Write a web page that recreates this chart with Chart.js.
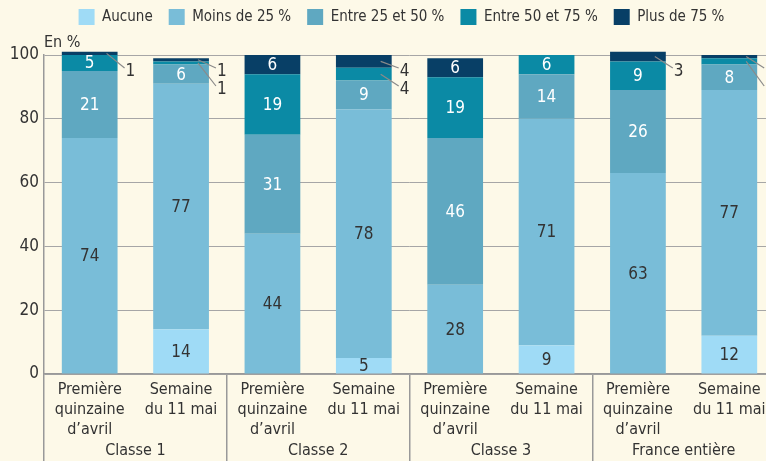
<!DOCTYPE html>
<html lang="fr">
<head>
<meta charset="utf-8">
<script src="https://cdn.jsdelivr.net/npm/chart.js@4"></script>
<style>
  html, body { margin: 0; padding: 0; background: #fdf9e8; overflow: hidden; }
  #wrap { width: 775px; height: 461px; position: relative; }
</style>
</head>
<body>
<div id="wrap"><canvas id="chart"></canvas></div>
<script>
const FONT = "'Liberation Sans Narrow', 'Arial Narrow', 'DejaVu Sans Condensed', sans-serif";

// categories
const barLabels = [
    ['Première', 'quinzaine', 'd’avril'], ['Semaine', 'du 11 mai'],
    ['Première', 'quinzaine', 'd’avril'], ['Semaine', 'du 11 mai'],
    ['Première', 'quinzaine', 'd’avril'], ['Semaine', 'du 11 mai'],
    ['Première', 'quinzaine', 'd’avril'], ['Semaine', 'du 11 mai']
];
const groupLabels = ['Classe 1', 'Classe 2', 'Classe 3', 'France entière'];

// series (en %)
const aucune     = [0, 14, 0, 5, 0, 9, 0, 12];
const moins25    = [74, 77, 44, 78, 28, 71, 63, 77];
const entre25_50 = [21, 6, 31, 9, 46, 14, 26, 8];
const entre50_75 = [5, 1, 19, 4, 19, 6, 9, 2];
const plus75     = [1, 1, 6, 4, 6, 0, 3, 1];

const seriesNames = ['Aucune', 'Moins de 25 %', 'Entre 25 et 50 %', 'Entre 50 et 75 %', 'Plus de 75 %'];
const seriesColors = ['#9fdbf6', '#79bdd8', '#5fa8c1', '#0b8aa5', '#083f66'];

Chart.defaults.font.family = FONT;
Chart.defaults.color = '#333';

// number in each segment, small ones pulled out with a leader line
const valueLabels = {
    id: 'valueLabels',
    afterDatasetsDraw(chart) {
        const ctx = chart.ctx;
        const top = chart.chartArea.top;
        const smallCount = [];
        ctx.save();
        ctx.font = '17px ' + FONT;
        ctx.textBaseline = 'middle';
        for (let i = chart.data.datasets.length - 1; i >= 0; i--) {
            const meta = chart.getDatasetMeta(i);
            meta.data.forEach((bar, j) => {
                const v = chart.data.datasets[i].data[j];
                if (!v) return;
                const mid = (bar.y + bar.base) / 2;
                if (v >= 5) {
                    ctx.fillStyle = i < 2 ? '#333' : '#fff';
                    ctx.textAlign = 'center';
                    ctx.fillText(v, bar.x, mid + 1);
                } else {
                    const k = smallCount[j] || 0;
                    smallCount[j] = k + 1;
                    const right = bar.x + bar.width / 2;
                    const ly = top + 16 + k * 18;
                    ctx.strokeStyle = '#8a8a8a';
                    ctx.lineWidth = 1.2;
                    ctx.beginPath();
                    ctx.moveTo(right - 11, mid);
                    ctx.lineTo(right + 7, ly - 3);
                    ctx.stroke();
                    ctx.fillStyle = '#333';
                    ctx.textAlign = 'left';
                    ctx.fillText(v, right + 8, ly + 1);
                }
            });
        }
        ctx.restore();
    }
};

// "En %" above the y axis, room under the legend, legend nudged right
const extras = {
    id: 'extras',
    afterInit(chart) {
        const fit = chart.legend.fit;
        chart.legend.fit = function () {
            fit.call(this);
            this.height += 20;
        };
    },
    afterLayout(chart) {
        chart.legend.left += 14;
        chart.legend.right += 14;
    },
    afterDraw(chart) {
        const ctx = chart.ctx;
        ctx.save();
        ctx.font = '16px ' + FONT;
        ctx.fillStyle = '#333';
        ctx.textAlign = 'left';
        ctx.textBaseline = 'middle';
        ctx.fillText('En %', chart.chartArea.left, chart.chartArea.top - 12);
        ctx.restore();
    }
};

const series = [aucune, moins25, entre25_50, entre50_75, plus75];
const datasets = series.map((data, i) => ({
    label: seriesNames[i],
    data: data,
    backgroundColor: seriesColors[i],
    borderWidth: 0,
    barPercentage: 0.61,
    categoryPercentage: 1,
    clip: false
}));

const ctx = document.getElementById('chart').getContext('2d');
const myChart = new Chart(ctx, {
    type: 'bar',
    data: { labels: barLabels, datasets: datasets },
    options: {
        responsive: true,
        maintainAspectRatio: false,
        animation: false,
        layout: { padding: { top: -7, left: 0, right: 0, bottom: 0 } },
        plugins: {
            legend: {
                position: 'top',
                labels: {
                    boxWidth: 16,
                    boxHeight: 16,
                    padding: 16,
                    color: '#333',
                    font: { size: 15 }
                }
            },
            tooltip: { enabled: false }
        },
        scales: {
            x: {
                stacked: true,
                ticks: {
                    font: { size: 16, lineHeight: 1.25 },
                    color: '#333',
                    padding: -81,
                    maxRotation: 0,
                    autoSkip: false
                },
                grid: {
                    drawOnChartArea: false,
                    tickLength: 87,
                    lineWidth: 1.5,
                    color: (c) => c.index % 2 === 0 ? '#999' : 'rgba(0,0,0,0)'
                },
                border: { color: '#999', width: 1.5 },
                afterFit(s) { s.height = 62; }
            },
            x2: {
                type: 'category',
                labels: groupLabels,
                offset: true,
                position: 'bottom',
                grid: { display: false },
                border: { display: false },
                ticks: { font: { size: 16 }, color: '#333', padding: -3 },
                afterFit(s) { s.height = 25; }
            },
            y: {
                stacked: true,
                min: 0,
                max: 100,
                ticks: { stepSize: 20, font: { size: 17 }, color: '#333', padding: 5 },
                grid: { color: '#a6a6a6', lineWidth: 1, drawTicks: false },
                border: { color: '#999', width: 1.5 },
                afterFit(s) { s.width = 44; }
            }
        }
    },
    plugins: [valueLabels, extras]
});
</script>
</body>
</html>
